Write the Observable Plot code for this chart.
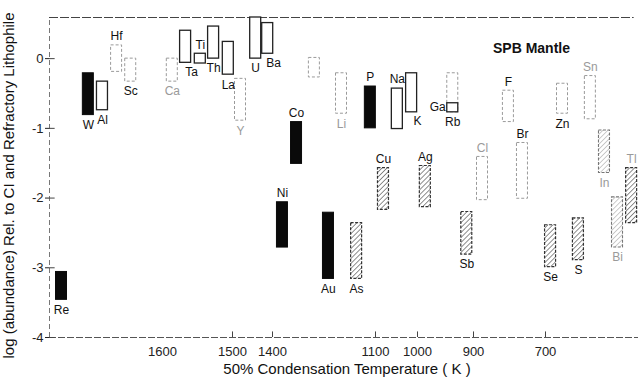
<!DOCTYPE html>
<html><head><meta charset="utf-8">
<script src="https://cdn.jsdelivr.net/npm/d3@7"></script>
<script src="https://cdn.jsdelivr.net/npm/@observablehq/plot@0.6"></script>
<style>
body{margin:0;background:#fff}
#chart svg{display:block}
</style>
</head><body>
<svg width="0" height="0" style="position:absolute"><defs>
<pattern id="hatch" patternUnits="userSpaceOnUse" width="3.5" height="3.5" patternTransform="rotate(45)">
<rect width="3.5" height="3.5" fill="white"/>
<line x1="0" y1="0" x2="0" y2="3.5" stroke="#333" stroke-width="1.1"/>
</pattern>
<pattern id="hatchfaint" patternUnits="userSpaceOnUse" width="3.5" height="3.5" patternTransform="rotate(45)">
<rect width="3.5" height="3.5" fill="white"/>
<line x1="0" y1="0" x2="0" y2="3.5" stroke="#999" stroke-width="1"/>
</pattern>
</defs></svg>
<div id="chart"></div>
<script>
const elements = ["Re","W","Al","Hf","Sc","Ca","Ta","Ti","Th","La","Y","U","Ba","Ni","Co","Cr","Au","Li","As","P","Cu","Na","K","Ag","Ga","Rb","Sb","Cl","F","Br","Se","Zn","S","Sn","In","Bi","Tl"];
const temps = [1743,1705,1685,1665,1645,1586,1567,1546,1527,1506,1480,1442,1412,1371,1330,1278,1237,1199,1155,1115,1081,1048,1014,986,937,937,912,875,803,764,686,653,609,576,537,501,462];
const highs = [-3.06,-0.21,-0.33,0.19,0.0,0.0,0.40,0.07,0.46,0.24,-0.29,0.59,0.51,-2.06,-0.91,0.01,-2.21,-0.21,-2.36,-0.40,-1.57,-0.43,-0.21,-1.54,-0.21,-0.64,-2.20,-1.41,-0.46,-1.21,-2.39,-0.36,-2.29,-0.25,-1.03,-1.99,-1.57];
const lows  = [-3.46,-0.81,-0.74,-0.19,-0.33,-0.33,-0.06,-0.07,0.0,-0.23,-0.89,0.0,0.07,-2.71,-1.51,-0.27,-3.16,-0.79,-3.16,-1.00,-2.17,-1.01,-0.77,-2.13,-0.77,-0.77,-2.81,-2.03,-0.91,-2.01,-2.99,-0.79,-2.89,-0.87,-1.64,-2.71,-2.36];
const kinds = ["sid","sid","open","faint","faint","faint","open","open","open","open","faint","open","open","sid","sid","faint","sid","faint","hatch","sid","hatch","open","open","hatch","faint","open","hatch","faint","faint","faint","hatch","faint","hatch","faint","hatchfaint","hatchfaint","hatch"];
const labelSides = ["b","b","b","t","b","b","br","t","b","b","b","b","br","t","t","n","b","b","b","t","t","t","br","t","l","b","b","t","t","t","b","b","b","t","b","b","t"];
const faintLabels = ["Ca","Y","Cr","Li","Cl","Sn","In","Bi","Tl"];
const xTicks = [1600,1500,1400,1100,1000,900,700];
const yTicks = [0,-1,-2,-3,-4];

const data = elements.map((e,i)=>({el:e,t:temps[i],hi:highs[i],lo:lows[i],kind:kinds[i],side:labelSides[i]}));

const halfW = -5.5;
const rectOpts = (k, extra) => Plot.rect(data.filter(d=>d.kind===k), Object.assign({x1:"t", x2:"t", y1:"lo", y2:"hi", insetLeft:halfW, insetRight:halfW}, extra));

const lab = (side, dx, dy, yKey) => Plot.text(data.filter(d=>d.side===side), {
  x:"t", y:yKey, text:"el", dx, dy, fontSize:12,
  fill: d => faintLabels.includes(d.el) ? "#9a9a9a" : "#111"
});

const yTop = 0.59, yBot = -4, xLeft = 1760;

const chart = Plot.plot({
  width:638, height:383,
  marginLeft:49, marginRight:0, marginTop:17, marginBottom:46,
  style:{fontFamily:"Liberation Sans, Arial, sans-serif", fontSize:"12px", color:"#222", background:"white"},
  x:{type:"linear", domain:[1760,1600,1500,1400,1100,1000,900,700,443], range:[49,162,232,272,375,417,473,545,638]},
  y:{domain:[yBot,yTop]},
  marks:[
    Plot.ruleY([yBot], {x1:xLeft, x2:443, stroke:"#555", strokeDasharray:"7,2", strokeWidth:1}),
    Plot.ruleY([yTop], {x1:xLeft, x2:455, stroke:"#444", strokeDasharray:"9,2", strokeWidth:1.1}),
    Plot.ruleX([xLeft], {y1:yBot, y2:yTop, stroke:"#777", strokeDasharray:"5,3", strokeWidth:1}),
    Plot.ruleX(xTicks.filter(t=>t!==1600), {y1:yBot, y2:-3.92, stroke:"#444"}),
    Plot.ruleY(yTicks, {x1:xLeft, x2:1752, stroke:"#444"}),
    rectOpts("faint", {fill:"white", stroke:"#9a9a9a", strokeDasharray:"3,2", strokeWidth:1}),
    rectOpts("open", {fill:"white", stroke:"#222", strokeWidth:1.3}),
    rectOpts("hatchfaint", {fill:"url(#hatchfaint)", stroke:"#777", strokeDasharray:"3,1.5", strokeWidth:1.1}),
    rectOpts("hatch", {fill:"url(#hatch)", stroke:"#333", strokeDasharray:"3,1.5", strokeWidth:1.2}),
    rectOpts("sid", {fill:"#0a0a0a", stroke:"#0a0a0a", strokeWidth:1}),
    lab("t", 0, -9, "hi"),
    lab("b", 0, 10, "lo"),
    lab("br", 6, 9, "lo"),
    lab("l", -15, -5, "lo"),
    Plot.axisY({ticks:yTicks, tickSize:4, tickPadding:2, tickFormat:d=> d===0 ? "0" : "-"+Math.abs(d), label:null, fontSize:13}),
    Plot.axisX({ticks:xTicks, tickSize:0, tickPadding:9, tickFormat:d=>String(d), label:null, fontSize:13}),
    Plot.text(["SPB Mantle"], {frameAnchor:"top-right", dx:-107, dy:26, textAnchor:"middle", fontSize:14, fontWeight:"bold", fill:"#111"}),
    Plot.text(["50% Condensation Temperature ( K )"], {frameAnchor:"bottom", textAnchor:"middle", dx:3, dy:36, fontSize:15, fill:"#111"}),
    Plot.text(["log (abundance) Rel. to CI and Refractory Lithophile"], {frameAnchor:"left", textAnchor:"middle", rotate:-90, dx:-40, dy:8, fontSize:15, fill:"#111"})
  ]
});
document.getElementById("chart").appendChild(chart);
</script>
</body></html>
